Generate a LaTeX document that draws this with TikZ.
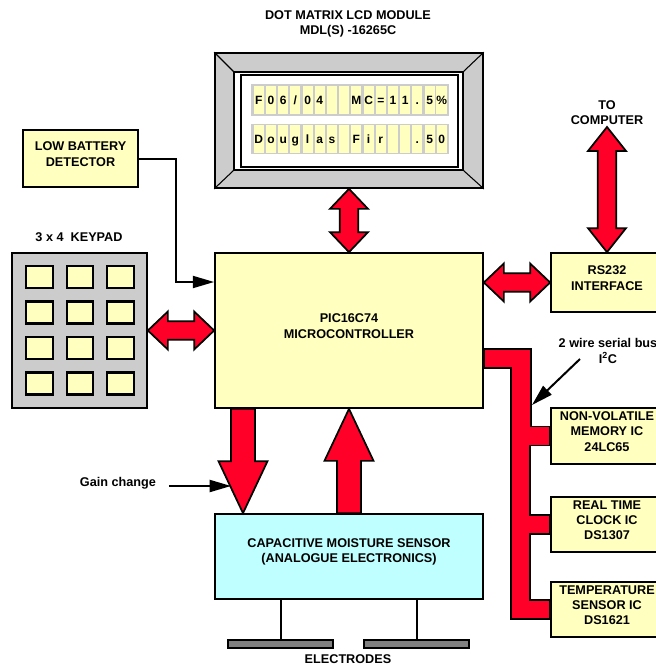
\documentclass[tikz,border=0pt]{standalone}
\usepackage{fontspec}
\setmainfont{Liberation Sans}
\usetikzlibrary{calc,fit,arrows.meta}
\definecolor{myred}{RGB}{255,0,40}
\definecolor{myyellow}{RGB}{255,255,192}
\definecolor{mygray}{RGB}{204,204,204}
\definecolor{mycyan}{RGB}{192,255,255}
\definecolor{mydark}{RGB}{128,128,128}

% Fat double arrow between two tips: [head length]{tip a}{tip b}
\newcommand{\fatdbl}[3][15pt]{%
  \path (#2) coordinate (fa) (#3) coordinate (fb);
  \path ($(fa)!#1!(fb)$) coordinate (fh1) ($(fb)!#1!(fa)$) coordinate (fh2);
  \draw[fatarrow] (fa)
    -- ($(fh1)!14.25pt!90:(fb)$) -- ($(fh1)!7pt!90:(fb)$)
    -- ($(fh2)!7pt!-90:(fa)$) -- ($(fh2)!14.25pt!-90:(fa)$)
    -- (fb)
    -- ($(fh2)!14.25pt!90:(fa)$) -- ($(fh2)!7pt!90:(fa)$)
    -- ($(fh1)!7pt!-90:(fb)$) -- ($(fh1)!14.25pt!-90:(fb)$)
    -- cycle;}
% Fat single arrow: {tail}{tip}
\newcommand{\fatsgl}[2]{%
  \path (#1) coordinate (fa) (#2) coordinate (fb);
  \path ($(fb)!39pt!(fa)$) coordinate (fh);
  \draw[fatarrow] ($(fa)!9pt!90:(fb)$)
    -- ($(fh)!9pt!-90:(fa)$) -- ($(fh)!18.4pt!-90:(fa)$)
    -- (fb)
    -- ($(fh)!18.4pt!90:(fa)$) -- ($(fh)!9pt!90:(fa)$)
    -- ($(fa)!9pt!-90:(fb)$) -- cycle;}

\tikzset{
  txt/.style={font=\fontsize{9.5}{11.5}\selectfont\bfseries},
  block/.style={txt, draw, line width=1.3pt, fill=myyellow, inner sep=0pt, align=center},
  lbl/.style={txt, align=center, inner sep=1.5pt},
  fatarrow/.style={draw, line width=1.3pt, fill=myred, line join=miter},
  bus/.style={draw, line width=1.3pt, fill=myred, line join=miter},
  key/.style={draw, line width=1.6pt, fill=myyellow, minimum width=20pt, minimum height=16.5pt, inner sep=0pt},
  cell/.style={fill=myyellow, minimum width=7.5pt, minimum height=21pt, inner sep=0pt,
    text height=6.6pt, text depth=0pt, font=\fontsize{9}{9}\selectfont\bfseries},
  wire/.style={line width=1.5pt},
  thinarrow/.style={wire, -{Triangle[length=16pt,width=9pt]}},
}

\begin{document}
\begin{tikzpicture}[x=0.75pt, y=-0.75pt]
    \useasboundingbox (0,0) rectangle (656,665);

    % LCD module
    \node[lbl] (lcdtitle) at (348,24) {DOT MATRIX LCD MODULE\\MDL(S) -16265C};
    \node[fit={(215,53) (483,188)}, draw, line width=1.3pt, fill=mygray, inner sep=0pt] (lcd) {};
    \node[fit={(234,72) (463,170)}, draw, line width=0.8pt, fill=white, inner sep=0pt] (bezel) {};
    \draw[line width=0.8pt] (lcd.north west) -- (bezel.north west)
        (lcd.north east) -- (bezel.north east)
        (lcd.south west) -- (bezel.south west)
        (lcd.south east) -- (bezel.south east);
    \node[fit={(241,75) (458,167)}, draw, line width=1.6pt, fill=white, inner sep=0pt] (screen) {};
    \node[fit={(251,84) (449,116)}, fill=mygray, inner sep=0pt] (band1) {};
    \node[fit={(251,124) (449,154)}, fill=mygray, inner sep=0pt] (band2) {};
    \foreach \ch [count=\i] in {F,0,6,/,0,4,{},{},M,C,=,1,1,.,5,\%}
        \node[cell] (ca-\i) at ({246.6+12.2*\i},100) {\ch};
    \foreach \ch [count=\i] in {D,o,u,g,l,a,s,{},F,i,r,{},{},.,5,0}
        \node[cell] (cb-\i) at ({246.6+12.2*\i},139) {\ch};

    % Microcontroller
    \node[block, fit={(215,253) (483,408)}] (mcu) {PIC16C74\\MICROCONTROLLER};

    % Low battery detector
    \node[block, fit={(23,130) (138,187)}] (lowbat) {LOW BATTERY\\DETECTOR};

    % Keypad
    \node[lbl] (keytitle) at (79,237) {3 x 4\ \ KEYPAD};
    \node[fit={(12,253) (147,408)}, draw, line width=1.3pt, fill=mygray, inner sep=0pt] (keypad) {};
    \foreach \r in {0,...,3}
        \foreach \c in {0,1,2}
            \node[key] (key-\r-\c) at ({39.5+40.5*\c},{277+35.5*\r}) {};

    % RS232 and computer link
    \node[lbl, anchor=south] (tocomp) at (607,127) {TO\\COMPUTER};
    \node[block, fit={(551,253) (663,312)}] (rs232) {RS232\\INTERFACE};

    % I2C devices
    \node[lbl] (i2c) at (608,351) {2 wire serial bus\\I\textsuperscript{2}C};
    \node[block, fit={(551,408) (663,464)}] (nvm) {NON-VOLATILE\\MEMORY IC\\24LC65};
    \node[block, fit={(551,497) (663,552)}] (rtc) {REAL TIME\\CLOCK IC\\DS1307};
    \node[block, fit={(551,582) (663,637)}] (temp) {TEMPERATURE\\SENSOR IC\\DS1621};

    % Moisture sensor and electrodes
    \node[block, fill=mycyan, fit={(215,514) (483,599)}] (sensor) {CAPACITIVE MOISTURE SENSOR\\(ANALOGUE ELECTRONICS)};
    \node[fit={(228,640) (333,648)}, draw, line width=1.2pt, fill=mydark, inner sep=0pt] (elecA) {};
    \node[fit={(364,640) (469,648)}, draw, line width=1.2pt, fill=mydark, inner sep=0pt] (elecB) {};
    \node[lbl] (electitle) at (348,659) {ELECTRODES};
    \draw[wire] (sensor.south -| elecA.north) -- (elecA.north);
    \draw[wire] (sensor.south -| elecB.north) -- (elecB.north);

    % Fat arrows
    \fatdbl{lcd.south}{mcu.north}
    \fatdbl{keypad.east}{mcu.west}
    \fatdbl{mcu.east |- rs232.west}{rs232.west}
    \fatdbl[18pt]{rs232.north}{tocomp.south}
    \fatsgl{$(mcu.south)+(-106,0)$}{$(sensor.north)+(-106,0)$}
    \fatsgl{sensor.north}{mcu.south}

    % Serial bus
    \draw[bus] (mcu.east |- 0,349) -- (531,349)
        |- ($(nvm.west)+(0,-9.5)$) -- ($(nvm.west)+(0,9.5)$) -- ++(-20,0)
        |- ($(rtc.west)+(0,-9.5)$) -- ($(rtc.west)+(0,9.5)$) -- ++(-20,0)
        |- ($(temp.west)+(0,-9.5)$) -- ($(temp.west)+(0,9.5)$) -- ++(-39,0)
        |- (mcu.east |- 0,368) -- cycle;

    % Thin arrows
    \draw[thinarrow] (lowbat.east) -- ++(37,0) |- (mcu.west |- 0,282);
    \node[lbl] (gain) at (118,483) {Gain change};
    \coordinate (gaintip) at (231,486);
    \draw[thinarrow, shorten <=8pt] (gain.east |- gaintip) -- (gaintip);
    \coordinate (i2cfrom) at (580,359);
    \coordinate (bustap) at (532,405);
    \draw[thinarrow] (i2cfrom) -- (bustap);
\end{tikzpicture}
\end{document}
